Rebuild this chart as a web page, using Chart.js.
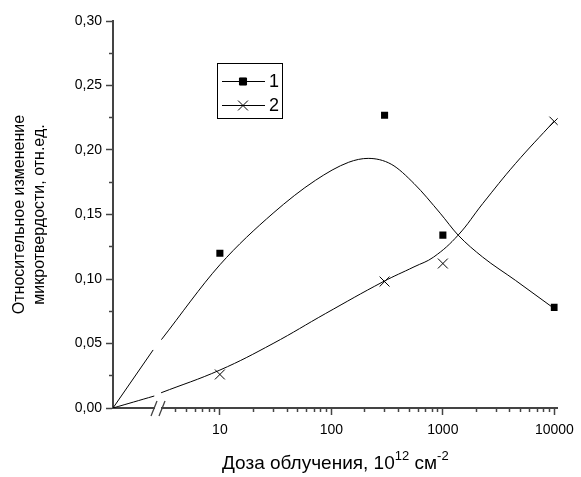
<!DOCTYPE html>
<html>
<head>
<meta charset="utf-8">
<script src="https://cdn.jsdelivr.net/npm/chart.js@4.4.1/dist/chart.umd.min.js"></script>
<style>
  html, body { margin: 0; padding: 0; background: #fff; }
  #wrap { width: 581px; height: 477px; }
</style>
</head>
<body>
<div id="wrap"><canvas id="chart"></canvas></div>
<script>
// measured points (dose in 10^12 cm^-2)
var doses = [10, 300, 1000, 10000];
var series1 = [0.120, 0.227, 0.134, 0.078];
var series2 = [0.026, 0.098, 0.112, 0.222];

// fitted curves, null = gap at the axis break
var fit1X = [1.1, 2.52, 2.7, 2.99, 10, 30, 72, 143, 214, 344, 551, 946, 1371, 2275, 4470, 10000];
var fit1Y = [0, 0.045, null, 0.053, 0.111, 0.151, 0.1765, 0.1905, 0.1935, 0.189, 0.174, 0.151, 0.134, 0.117, 0.099, 0.077];
var fit2X = [1.1, 2.58, 2.8, 2.97, 10, 30, 89, 290, 551, 826, 1371, 2275, 4470, 10000];
var fit2Y = [0, 0.0093, null, 0.0118, 0.0294, 0.050, 0.0733, 0.0978, 0.1094, 0.117, 0.134, 0.1584, 0.1894, 0.2225];

var xMajorTicks = [10, 100, 1000, 10000];
var xMinorTicks = [4, 5, 6, 7, 8, 9, 20, 30, 40, 50, 60, 70, 80, 90,
                   200, 300, 400, 500, 600, 700, 800, 900,
                   2000, 3000, 4000, 5000, 6000, 7000, 8000, 9000];
var yMajorTicks = [0, 0.05, 0.10, 0.15, 0.20, 0.25, 0.30];
var yMinorTicks = [0.025, 0.075, 0.125, 0.175, 0.225, 0.275];

var yTitle = ['Относительное изменение', 'микротвердости, отн.ед.'];
var legendLabels = ['1', '2'];

var AXIS = '#444';
var FONT = "'Liberation Sans', Arial, sans-serif";
Chart.defaults.font.family = FONT;
Chart.defaults.color = '#000';

function pts(xs, ys) {
    return xs.map(function (x, i) { return {x: x, y: ys[i]}; });
}

function setTicks(list) {
    return function (scale) {
        scale.ticks = list.map(function (v) { return {value: v}; });
    };
}

var legendBox = {
    id: 'legendBox',
    afterDraw: function (chart) {
        var ctx = chart.ctx;
        var a = chart.chartArea;
        var x0 = a.left + 104, y0 = a.top + 42;
        ctx.save();
        ctx.strokeStyle = '#000';
        ctx.fillStyle = '#000';
        ctx.lineWidth = 1;
        ctx.strokeRect(x0 + 0.5, y0 + 0.5, 65, 55);
        var marks = chart.data.datasets.filter(function (d) { return d.legendText; });
        marks.forEach(function (d, i) {
            var y = y0 + 18 + i * 24;
            ctx.beginPath();
            ctx.moveTo(x0 + 5, y + 0.5);
            ctx.lineTo(x0 + 48, y + 0.5);
            ctx.stroke();
            Chart.helpers.drawPoint(ctx, {
                pointStyle: d.pointStyle, radius: d.pointRadius,
                borderWidth: 1, rotation: 0
            }, x0 + 26, y + 0.5);
            ctx.font = '18px ' + FONT;
            ctx.textBaseline = 'middle';
            ctx.textAlign = 'left';
            ctx.fillText(d.legendText, x0 + 52, y + 1);
        });
        ctx.restore();
    }
};

var axisExtras = {
    id: 'axisExtras',
    afterDraw: function (chart) {
        var ctx = chart.ctx;
        var a = chart.chartArea;
        var b = a.bottom, bx = a.left + 45;
        ctx.save();
        // axis break
        ctx.fillStyle = '#fff';
        ctx.fillRect(bx - 3, b - 4, 6, 8);
        ctx.strokeStyle = AXIS;
        ctx.lineWidth = 1.3;
        ctx.beginPath();
        ctx.moveTo(bx - 7, b + 8); ctx.lineTo(bx - 1, b - 7);
        ctx.moveTo(bx + 1, b + 8); ctx.lineTo(bx + 7, b - 7);
        ctx.stroke();
        // x title with superscripts
        var parts = [['Доза облучения, 10', 19, 0], ['12', 13, -9], [' см', 19, 0], ['-2', 13, -9]];
        var total = 0;
        parts.forEach(function (p) { ctx.font = p[1] + 'px ' + FONT; total += ctx.measureText(p[0]).width; });
        var x = (a.left + a.right) / 2 - total / 2;
        ctx.fillStyle = '#000';
        ctx.textBaseline = 'alphabetic';
        ctx.textAlign = 'left';
        parts.forEach(function (p) {
            ctx.font = p[1] + 'px ' + FONT;
            ctx.fillText(p[0], x, 469 + p[2]);
            x += ctx.measureText(p[0]).width;
        });
        ctx.restore();
    }
};

var X_MIN = 1.1, X_MAX = 10700;

new Chart(document.getElementById('chart'), {
    type: 'scatter',
    data: {
        datasets: [
            {
                data: pts(fit1X, fit1Y), showLine: true, pointRadius: 0,
                borderColor: '#000', borderWidth: 1, cubicInterpolationMode: 'monotone', spanGaps: false
            },
            {
                data: pts(fit2X, fit2Y), showLine: true, pointRadius: 0,
                borderColor: '#000', borderWidth: 1, tension: 0.4, spanGaps: false
            },
            {
                legendText: legendLabels[0],
                data: pts(doses, series1), pointStyle: 'rect', pointRadius: 5,
                backgroundColor: '#000', borderColor: '#000', borderWidth: 0
            },
            {
                legendText: legendLabels[1],
                data: pts(doses, series2), pointStyle: 'crossRot', pointRadius: 7,
                backgroundColor: '#000', borderColor: '#000', borderWidth: 1
            }
        ]
    },
    options: {
        responsive: true,
        maintainAspectRatio: false,
        animation: false,
        devicePixelRatio: 1,
        layout: { padding: { left: 0, right: 14, top: 21, bottom: 0 } },
        plugins: { legend: { display: false }, tooltip: { enabled: false } },
        scales: {
            xMinor: {
                type: 'logarithmic', position: 'bottom', min: X_MIN, max: X_MAX, weight: 0, bounds: 'data',
                grid: { display: true, drawOnChartArea: false, drawTicks: true, tickLength: 4, tickWidth: 1.5, tickColor: AXIS },
                border: { display: false },
                ticks: { display: false },
                afterBuildTicks: setTicks(xMinorTicks),
                afterFit: function (s) { s.height = 0; }
            },
            x: {
                type: 'logarithmic', position: 'bottom', min: X_MIN, max: X_MAX, weight: 1, bounds: 'data',
                grid: { display: true, drawOnChartArea: false, drawTicks: true, tickLength: 7, tickWidth: 1.5, tickColor: AXIS },
                border: { display: true, color: AXIS, width: 2 },
                ticks: {
                    font: { size: 14 }, color: '#000', padding: 7, autoSkip: false, maxRotation: 0,
                    callback: function (v) { return String(v); }
                },
                afterBuildTicks: setTicks(xMajorTicks),
                afterFit: function (s) { s.height = 69; }
            },
            yMinor: {
                type: 'linear', position: 'left', min: 0, max: 0.3, weight: 0, bounds: 'data',
                grid: { display: true, drawOnChartArea: false, drawTicks: true, tickLength: 4, tickWidth: 1.5, tickColor: AXIS },
                border: { display: false },
                ticks: { display: false },
                afterBuildTicks: setTicks(yMinorTicks),
                afterFit: function (s) { s.width = 0; }
            },
            y: {
                type: 'linear', position: 'left', min: 0, max: 0.3, weight: 1, bounds: 'data',
                grid: { display: true, drawOnChartArea: false, drawTicks: true, tickLength: 7, tickWidth: 1.5, tickColor: AXIS },
                border: { display: true, color: AXIS, width: 2 },
                ticks: {
                    font: { size: 14 }, color: '#000', padding: 4,
                    callback: function (v) { return v.toFixed(2).replace('.', ','); }
                },
                title: {
                    display: true, text: yTitle, color: '#000',
                    font: { size: 16, lineHeight: 1.25 }, padding: { top: 10, bottom: 0 }
                },
                afterBuildTicks: setTicks(yMajorTicks),
                afterFit: function (s) { s.width = 113; }
            }
        }
    },
    plugins: [legendBox, axisExtras]
});
</script>
</body>
</html>
